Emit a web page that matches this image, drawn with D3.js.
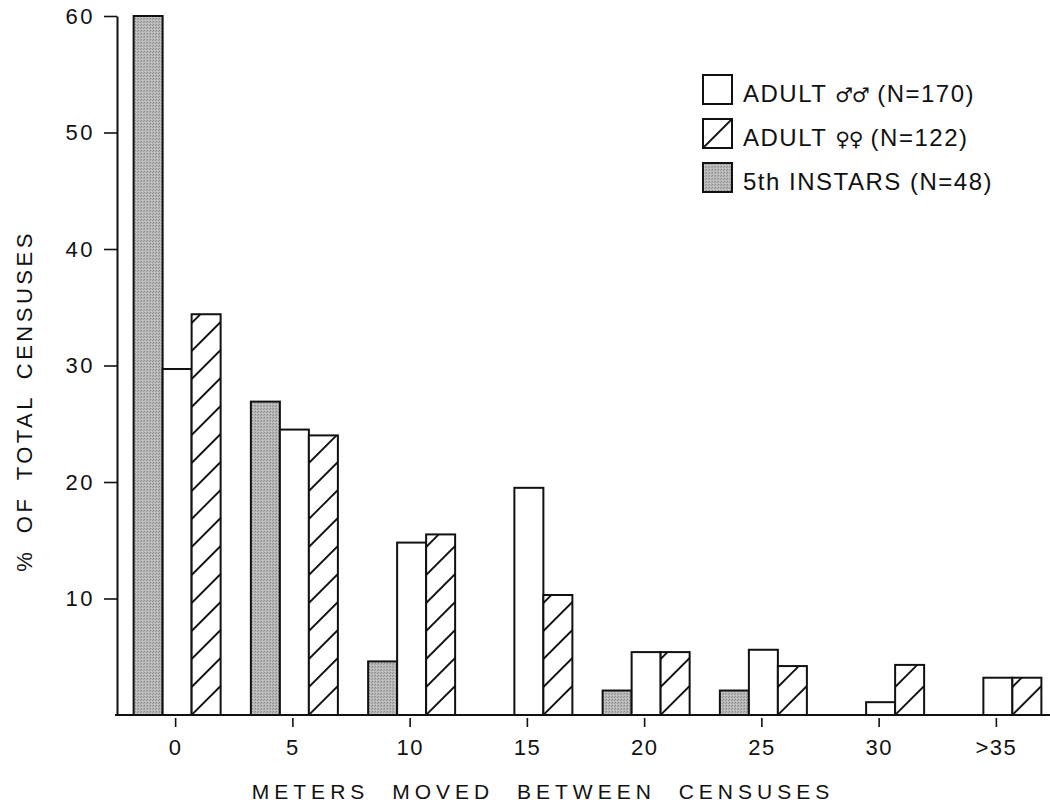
<!DOCTYPE html>
<html>
<head>
<meta charset="utf-8">
<script src="https://cdn.jsdelivr.net/npm/d3@7"></script>
<style>
  body { margin: 0; background: #fff; }
  text { font-family: "Liberation Sans", Arial, sans-serif; fill: #111; }
</style>
</head>
<body>
<div id="chart"></div>
<script>
// data
var categories = ["0", "5", "10", "15", "20", "25", "30", ">35"];
var instars = [60, 26.9, 4.6, 0, 2.1, 2.1, 0, 0];
var males = [29.7, 24.5, 14.8, 19.5, 5.4, 5.6, 1.1, 3.2];
var females = [34.4, 24.0, 15.5, 10.3, 5.4, 4.2, 4.3, 3.2];
var yTicks = [10, 20, 30, 40, 50, 60];
var legendNames = ["ADULT", "ADULT", "5th INSTARS"];
var legendSymbols = ["\u2642\u2642", "\u2640\u2640", ""];
var legendCounts = ["(N=170)", "(N=122)", "(N=48)"];

var W = 1050, H = 805;
var margin = {top: 16, left: 117, bottom: 90, right: 0};
var baseY = H - margin.bottom; // 715

var svg = d3.select("#chart")
    .append("svg")
    .attr("width", W)
    .attr("height", H);

var defs = svg.append("defs");

// stippled grey for the instar bars
var stip = defs.append("pattern")
    .attr("id", "stipple")
    .attr("patternUnits", "userSpaceOnUse")
    .attr("width", 3)
    .attr("height", 3);
stip.append("rect").attr("width", 3).attr("height", 3).attr("fill", "#b8b8b8");
stip.append("rect").attr("x", 0).attr("y", 0).attr("width", 1).attr("height", 1).attr("fill", "#858585");
stip.append("rect").attr("x", 2).attr("y", 1).attr("width", 1).attr("height", 1).attr("fill", "#969696");
stip.append("rect").attr("x", 1).attr("y", 2).attr("width", 1).attr("height", 1).attr("fill", "#cdcdcd");

// scales
var x = d3.scaleBand()
    .domain(categories)
    .range([117, 1055])
    .padding(0);

var series = ["instar", "male", "female"];
var xInner = d3.scaleBand()
    .domain(series)
    .range([-42, 45]);

var y = d3.scaleLinear()
    .domain([0, 60])
    .range([baseY, margin.top]);

var rows = categories.map(function(c, i) {
    return {cat: c, instar: instars[i], male: males[i], female: females[i]};
});

function cx(d) { return x(d.cat) + x.bandwidth() / 2; }
var bw = xInner.bandwidth();

// instar bars
svg.append("g").selectAll("rect")
    .data(rows.filter(function(d) { return d.instar > 0; }))
    .enter().append("rect")
    .attr("x", function(d) { return cx(d) + xInner("instar"); })
    .attr("y", function(d) { return y(d.instar); })
    .attr("width", bw)
    .attr("height", function(d) { return baseY - y(d.instar); })
    .attr("fill", "url(#stipple)")
    .attr("stroke", "#111")
    .attr("stroke-width", 2);

// male bars
svg.append("g").selectAll("rect")
    .data(rows)
    .enter().append("rect")
    .attr("x", function(d) { return cx(d) + xInner("male"); })
    .attr("y", function(d) { return y(d.male); })
    .attr("width", bw)
    .attr("height", function(d) { return baseY - y(d.male); })
    .attr("fill", "#fff")
    .attr("stroke", "#111")
    .attr("stroke-width", 2);

// female bars, hatched
var hatchGap = 28;
var fg = svg.append("g");
rows.forEach(function(d, i) {
    var x0 = cx(d) + xInner("female");
    var top = y(d.female);
    var h = baseY - top;
    defs.append("clipPath")
        .attr("id", "clipf" + i)
        .append("rect")
        .attr("x", x0).attr("y", top).attr("width", bw).attr("height", h);
    fg.append("rect")
        .attr("x", x0).attr("y", top)
        .attr("width", bw).attr("height", h)
        .attr("fill", "#fff");
    var lines = fg.append("g").attr("clip-path", "url(#clipf" + i + ")");
    for (var k = 0; k * hatchGap < h + bw; k++) {
        lines.append("line")
            .attr("x1", x0).attr("y1", baseY - k * hatchGap)
            .attr("x2", x0 + bw).attr("y2", baseY - k * hatchGap - bw)
            .attr("stroke", "#111")
            .attr("stroke-width", 1.8);
    }
    fg.append("rect")
        .attr("x", x0).attr("y", top)
        .attr("width", bw).attr("height", h)
        .attr("fill", "none")
        .attr("stroke", "#111")
        .attr("stroke-width", 2);
});

// y axis
var yAxis = svg.append("g")
    .attr("transform", "translate(" + margin.left + ",0)")
    .call(d3.axisLeft(y).tickValues(yTicks).tickSize(13).tickSizeOuter(0).tickPadding(9));
yAxis.select(".domain").attr("stroke", "#111").attr("stroke-width", 2);
yAxis.selectAll(".tick line").attr("stroke", "#111").attr("stroke-width", 1.6);
yAxis.selectAll(".tick text")
    .style("font-size", "22px")
    .style("letter-spacing", "2.5px")
    .style("font-family", "Liberation Sans, Arial, sans-serif")
    .attr("fill", "#111");

// baseline
svg.append("line")
    .attr("x1", margin.left - 2).attr("x2", W)
    .attr("y1", baseY).attr("y2", baseY)
    .attr("stroke", "#111")
    .attr("stroke-width", 2);

// x axis ticks and labels
var xAxis = svg.append("g")
    .attr("transform", "translate(0," + baseY + ")")
    .call(d3.axisBottom(x).tickSize(12).tickPadding(12));
xAxis.select(".domain").remove();
xAxis.selectAll(".tick line").attr("y1", 3).attr("stroke", "#111").attr("stroke-width", 1.6);
xAxis.selectAll(".tick text")
    .style("font-size", "22px")
    .style("letter-spacing", "1.5px")
    .style("font-family", "Liberation Sans, Arial, sans-serif")
    .attr("fill", "#111");

// axis titles
svg.append("text")
    .attr("x", 543)
    .attr("y", 799)
    .attr("text-anchor", "middle")
    .style("font-size", "21px")
    .style("letter-spacing", "5px")
    .style("word-spacing", "12px")
    .text("METERS MOVED BETWEEN CENSUSES");

svg.append("text")
    .attr("transform", "translate(32,401) rotate(-90)")
    .attr("text-anchor", "middle")
    .style("font-size", "22px")
    .style("letter-spacing", "3.5px")
    .style("word-spacing", "6px")
    .text("% OF TOTAL CENSUSES");

// legend
var legend = svg.append("g").attr("transform", "translate(703,75)");
var legendFills = ["#fff", "#fff", "url(#stipple)"];
legendNames.forEach(function(name, i) {
    var g = legend.append("g").attr("transform", "translate(0," + (i * 44) + ")");
    g.append("rect")
        .attr("width", 29).attr("height", 29)
        .attr("fill", legendFills[i])
        .attr("stroke", "#111")
        .attr("stroke-width", 2);
    if (i === 1) {
        g.append("line")
            .attr("x1", 0).attr("y1", 29)
            .attr("x2", 29).attr("y2", 0)
            .attr("stroke", "#111")
            .attr("stroke-width", 1.8);
    }
    var t = g.append("text")
        .attr("x", 40)
        .attr("y", 26.5)
        .style("font-size", "24px")
        .style("letter-spacing", "1.5px");
    t.append("tspan").text(name + " ");
    if (legendSymbols[i]) {
        t.append("tspan")
            .style("font-family", "DejaVu Sans, sans-serif")
            .style("font-size", "20px")
            .style("letter-spacing", "-1px")
            .text(legendSymbols[i]);
        t.append("tspan").text(" ");
    }
    t.append("tspan").text(legendCounts[i]);
});
</script>
</body>
</html>
